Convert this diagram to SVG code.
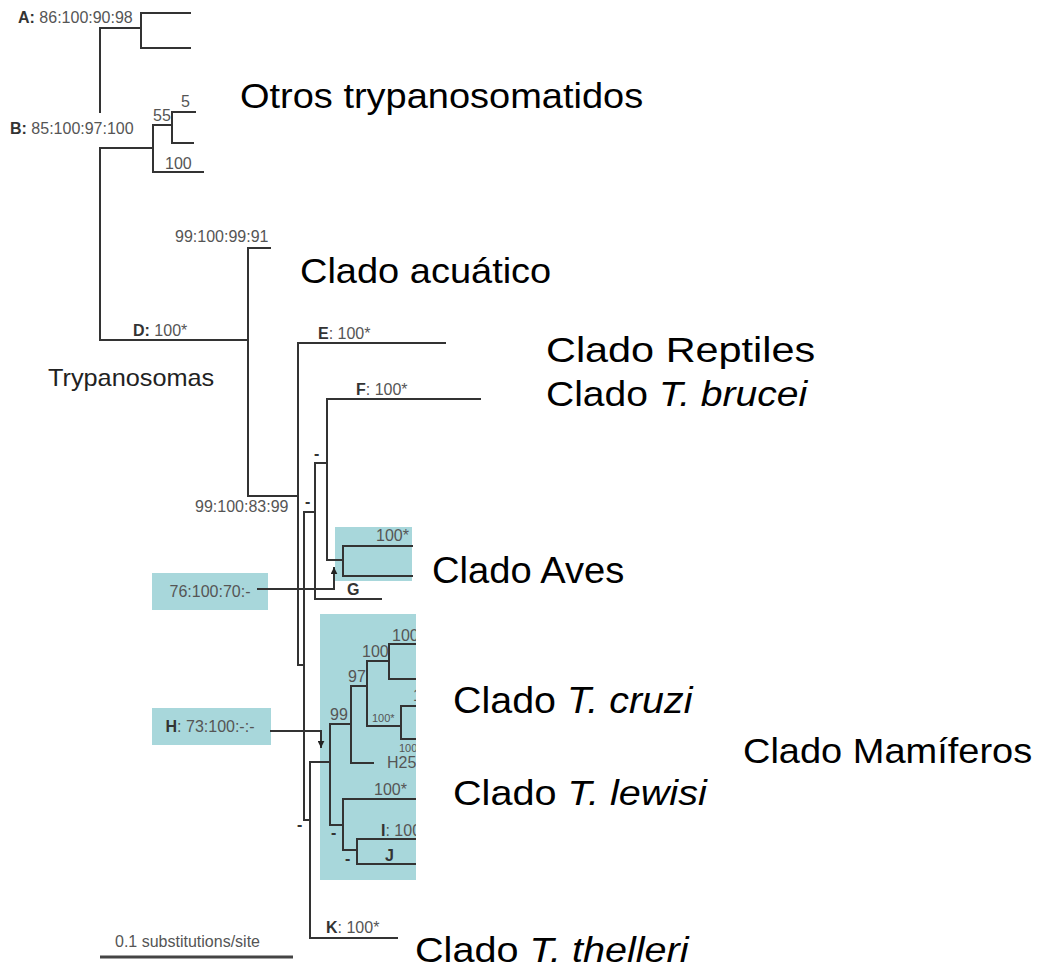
<svg xmlns="http://www.w3.org/2000/svg" width="1038" height="968" viewBox="0 0 1038 968">
<style>
.ln{stroke:#333;stroke-width:2;fill:none;stroke-linecap:square}
.big{font-family:"Liberation Sans",Arial,sans-serif;font-size:36px;fill:#000}
.sm{font-family:"Liberation Sans",Arial,sans-serif;font-size:16px;fill:#555}
.xs{font-family:"Liberation Sans",Arial,sans-serif;font-size:11px;fill:#555}
.b{font-weight:bold;fill:#333}
.box{fill:#a8d7db}
</style>
<defs>
<marker id="arr" viewBox="0 0 10 10" refX="9" refY="5" markerWidth="7" markerHeight="7" orient="auto-start-reverse" markerUnits="userSpaceOnUse">
<path d="M0,0 L10,5 L0,10 z" fill="#222"/>
</marker>
<clipPath id="clipM"><rect x="0" y="0" width="416" height="968"/></clipPath>
</defs>
<rect width="1038" height="968" fill="#fff"/>
<g id="boxes">
<rect class="box" x="335" y="527" width="77" height="54"/>
<rect class="box" x="320" y="614" width="96" height="266"/>
<rect class="box" x="152" y="573" width="116" height="37"/>
<rect class="box" x="152" y="708" width="119" height="37"/>
</g>
<g id="connectors">
<path class="ln" d="M100,28 V112 M100,148 V340"/>
<path class="ln" d="M100,28 H141 M141,13 V48 M141,13 H190 M141,48 H190"/>
<path class="ln" d="M100,148 H153 M153,125 V172 M153,125 H172 M172,112 V143 M172,112 H195 M172,143 H193 M153,172 H203"/>
<path class="ln" d="M100,340 H248 M248,248 V496 M248,248 H270 M248,496 H298"/>
<path class="ln" d="M298,343 V665 M298,343 H445 M298,665 H304 M304,512 V820"/>
<path class="ln" d="M304,512 H315 M315,463 V599 M315,463 H327 M315,599 H381 M327,399 V560 M327,399 H480 M327,560 H343 M343,546 V576 M343,546 H412 M343,576 H412"/>
<path class="ln" d="M304,820 H310 M310,762 V938 M310,762 H330 M310,938 H397"/>
<g clip-path="url(#clipM)">
<path class="ln" d="M330,724 V825 M330,724 H351 M351,686 V763 M351,686 H367 M351,763 H373 M367,661 V726 M367,661 H389 M367,726 H401 M389,644 V679 M389,644 H420 M389,679 H420 M401,706 V739 M401,706 H420 M401,739 H420"/>
<path class="ln" d="M330,825 H343 M343,799 V850 M343,799 H420 M343,850 H357 M357,839 V864 M357,839 H420 M357,864 H420"/>
</g>
<path class="ln" d="M258,589 H334 V568" marker-end="url(#arr)"/>
<path class="ln" d="M271,731 H321 V747" marker-end="url(#arr)"/>
<path d="M100,957 H293" stroke="#444" stroke-width="3"/>
</g>
<g id="clade-labels">
<text class="big" transform="matrix(1.055,0,0,1,240,108)">Otros trypanosomatidos</text>
<text class="big" transform="matrix(1.055,0,0,1,300,283)">Clado acuático</text>
<text class="big" transform="matrix(1.15,0,0,1,546,362)">Clado Reptiles</text>
<text class="big" transform="matrix(1.085,0,0,1,546,406)">Clado <tspan font-style="italic">T. brucei</tspan></text>
<text class="big" transform="matrix(1.06,0,0,1,432,583)">Clado Aves</text>
<text class="big" transform="matrix(1.095,0,0,1,453,713)">Clado <tspan font-style="italic">T. cruzi</tspan></text>
<text class="big" transform="matrix(1.055,0,0,1,743,763)">Clado Mamíferos</text>
<text class="big" transform="matrix(1.1,0,0,1,453,805)">Clado <tspan font-style="italic">T. lewisi</tspan></text>
<text class="big" transform="matrix(1.1,0,0,1,415,962)">Clado <tspan font-style="italic">T. thelleri</tspan></text>
<text transform="matrix(1.1,0,0,1,48,386)" font-family="Liberation Sans,Arial,sans-serif" font-size="23" fill="#222">Trypanosomas</text>
</g>
<g id="support-labels">
<text class="sm" x="18" y="23"><tspan class="b">A:</tspan> 86:100:90:98</text>
<text class="sm" x="10" y="134"><tspan class="b">B:</tspan> 85:100:97:100</text>
<text class="sm" x="153" y="121" font-size="13">55</text>
<text class="sm" x="181" y="107" font-size="12">5</text>
<text class="sm" x="165" y="169" font-size="14">100</text>
<text class="sm" x="175" y="242">99:100:99:91</text>
<text class="sm" x="133" y="336"><tspan class="b">D:</tspan>  100*</text>
<text class="sm" x="318" y="339"><tspan class="b">E</tspan>: 100*</text>
<text class="sm" x="356" y="395"><tspan class="b">F</tspan>: 100*</text>
<text class="sm" x="195" y="512">99:100:83:99</text>
<text class="sm b" x="314" y="459">-</text>
<text class="sm b" x="305" y="507">-</text>
<text class="sm" x="376" y="541">100*</text>
<text class="sm b" x="347" y="595">G</text>
<text class="sm" x="210" y="597" text-anchor="middle">76:100:70:-</text>
<text class="sm" x="210" y="732" text-anchor="middle"><tspan class="b">H</tspan>: 73:100:-:-</text>
<g clip-path="url(#clipM)">
<text class="sm" x="392" y="641">100</text>
<text class="sm" x="362" y="657">100</text>
<text class="sm" x="348" y="682">97</text>
<text class="sm" x="413" y="701">1</text>
<text class="sm" x="330" y="720">99</text>
<text class="xs" x="372" y="722">100*</text>
<text class="xs" x="399" y="752">100</text>
<text class="sm" x="387" y="768" font-size="13">H25</text>
<text class="sm" x="374" y="795">100*</text>
<text class="sm" x="381" y="836"><tspan class="b">I</tspan>: 100</text>
<text class="sm b" x="385" y="861">J</text>
</g>
<text class="sm b" x="331" y="838">-</text>
<text class="sm b" x="345" y="864">-</text>
<text class="sm b" x="297" y="830">-</text>
<text class="sm" x="326" y="933"><tspan class="b">K</tspan>: 100*</text>
<text class="sm" x="115" y="947" font-size="14">0.1 substitutions/site</text>
</g>
</svg>
